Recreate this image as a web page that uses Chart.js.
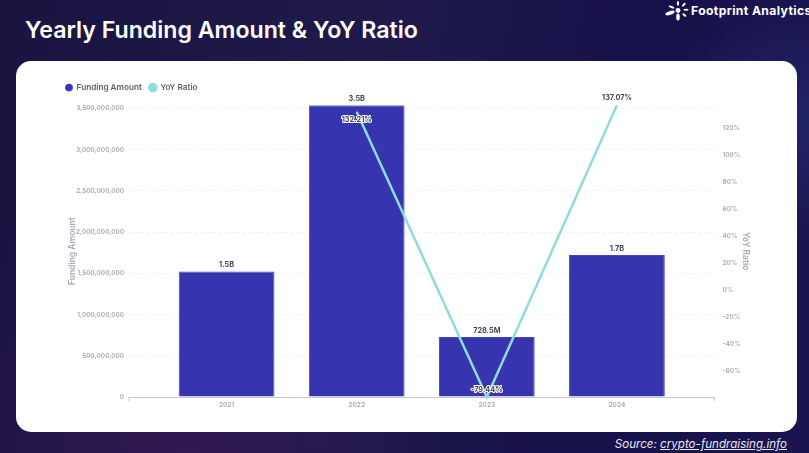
<!DOCTYPE html>
<html>
<head>
<meta charset="utf-8">
<script src="https://cdn.jsdelivr.net/npm/chart.js@4.4.3/dist/chart.umd.min.js"></script>
<style>
    html, body { margin: 0; padding: 0; }
    body {
        width: 809px; height: 453px; overflow: hidden; position: relative;
        font-family: Inter, sans-serif;
        background:
            radial-gradient(circle at 790px 120px, rgba(40, 50, 120, 0.55), transparent 130px),
            radial-gradient(circle at 180px 450px, rgba(70, 25, 90, 0.45), transparent 260px),
            linear-gradient(100deg, #1a1441 0%, #1f1a4a 45%, #17114a 75%, #1a1550 100%);
    }
    #title { position: absolute; left: 25px; top: 14px; font-size: 23.15px; font-weight: 600; color: #fff; line-height: 32px; white-space: nowrap; }
    #logo { position: absolute; left: 664px; top: 0; width: 28px; height: 22px; }
    #brand { position: absolute; left: 691px; top: 3px; font-size: 12.2px; letter-spacing: 0.37px; font-weight: 700; color: #fff; line-height: 16px; white-space: nowrap; }
    #card { position: absolute; left: 16px; top: 61px; width: 781px; height: 371px; background: #fff; border-radius: 15px; }
    #wrap { position: absolute; left: 57.5px; top: 76px; width: 692.5px; height: 337px; }
    #source { position: absolute; right: 22px; top: 436px; font-size: 11.6px; font-style: italic; color: #e8e8f0; line-height: 16px; white-space: nowrap; }
    #source u { text-underline-offset: 1px; }
</style>
</head>
<body>
<div id="title">Yearly Funding Amount &amp; YoY Ratio</div>
<svg id="logo" viewBox="0 0 28 22">
    <g fill="#fff">
        <circle cx="14" cy="10.5" r="2.4"/>
        <ellipse cx="14" cy="3.4" rx="1.1" ry="2.4"/>
        <ellipse cx="14" cy="17" rx="1.8" ry="3.6"/>
        <ellipse cx="6" cy="13" rx="4.8" ry="1.8" transform="rotate(-18 6 13)"/>
        <ellipse cx="7.5" cy="7" rx="3" ry="1.1" transform="rotate(20 7.5 7)"/>
        <ellipse cx="19.8" cy="4.8" rx="2.4" ry="1.1" transform="rotate(-45 19.8 4.8)"/>
        <ellipse cx="22" cy="9.8" rx="2.6" ry="1"/>
        <ellipse cx="20.3" cy="15" rx="2.4" ry="1.1" transform="rotate(40 20.3 15)"/>
    </g>
</svg>
<div id="brand">Footprint Analytics</div>
<div id="card"></div>
<div id="wrap"><canvas id="chart"></canvas></div>
<div id="source">Source: <u>crypto-fundraising.info</u></div>

<script>
// Values
const years = [2021, 2022, 2023, 2024];
const fundingAmount = [1523000000, 3540000000, 728500000, 1723000000];
const fundingLabels = ["1.5B", "3.5B", "728.5M", "1.7B"];
const yoyRatio = [null, 132.21, -79.44, 137.07];
const fundingTicks = [0, 500000000, 1000000000, 1500000000, 2000000000, 2500000000, 3000000000, 3500000000];
const ratioTicks = [-60, -40, -20, 0, 20, 40, 60, 80, 100, 120];

const fontFamily = "Inter, sans-serif";
const axisGrey = "#a4a8b8";

// Extra room between the legend row and the plot
const legendGapPlugin = {
    id: "legendGap",
    beforeInit(chart) {
        const fit = chart.legend.fit;
        chart.legend.fit = function () {
            fit.call(this);
            this.height += 3.5;
        };
    }
};

// Value labels for bars and line points, plus the end ticks on the x axis
const extrasPlugin = {
    id: "extras",
    afterDraw(chart) {
        const ctx = chart.ctx;
        const area = chart.chartArea;

        ctx.save();
        ctx.strokeStyle = "#c4c6d0";
        ctx.lineWidth = 1;
        ctx.beginPath();
        ctx.moveTo(area.left, area.bottom);
        ctx.lineTo(area.left, area.bottom + 4);
        ctx.moveTo(area.right, area.bottom);
        ctx.lineTo(area.right, area.bottom + 4);
        ctx.stroke();

        ctx.textAlign = "center";
        ctx.textBaseline = "middle";
        ctx.font = "700 7.3px " + fontFamily;

        chart.getDatasetMeta(1).data.forEach((bar, i) => {
            ctx.fillStyle = "#45485a";
            ctx.fillText(fundingLabels[i], bar.x, bar.y - 6.5);
        });

        chart.getDatasetMeta(0).data.forEach((point, i) => {
            if (yoyRatio[i] === null) return;
            // the peak that sits under a bar label goes below its point
            const dy = i === 1 ? 8.5 : -7.5;
            const text = yoyRatio[i].toFixed(2) + "%";
            if (point.y > area.top + 2) {
                ctx.lineWidth = 2;
                ctx.strokeStyle = "#fff";
                ctx.lineJoin = "round";
                ctx.strokeText(text, point.x, point.y + dy);
            }
            ctx.fillStyle = "#45485a";
            ctx.fillText(text, point.x, point.y + dy);
        });
        ctx.restore();
    }
};

new Chart(document.getElementById("chart"), {
    data: {
        datasets: [
            {
                type: "line",
                label: "YoY Ratio",
                data: years.map((year, i) => ({ x: year, y: yoyRatio[i] })),
                yAxisID: "yRatio",
                borderColor: "#8fdcdc",
                backgroundColor: "#8fdcdc",
                borderWidth: 2.5,
                pointRadius: 0,
                tension: 0,
                clip: false,
                order: 0
            },
            {
                type: "bar",
                label: "Funding Amount",
                data: years.map((year, i) => ({ x: year, y: fundingAmount[i] })),
                yAxisID: "yFunding",
                backgroundColor: "#3634ae",
                borderColor: "#4544b8",
                borderWidth: 1,
                barPercentage: 0.736,
                categoryPercentage: 1,
                order: 1
            }
        ]
    },
    plugins: [legendGapPlugin, extrasPlugin],
    options: {
        responsive: true,
        maintainAspectRatio: false,
        animation: false,
        plugins: {
            tooltip: { enabled: false },
            legend: {
                position: "top",
                align: "start",
                reverse: true,
                labels: {
                    usePointStyle: true,
                    pointStyle: "circle",
                    boxWidth: 7,
                    boxHeight: 5,
                    padding: 7.5,
                    color: "#5b5e6b",
                    font: { family: fontFamily, size: 8.2, weight: "600" }
                }
            }
        },
        scales: {
            x: {
                type: "linear",
                offset: false,
                min: 2020.25,
                max: 2024.75,
                afterBuildTicks: scale => { scale.ticks = years.map(value => ({ value })); },
                grid: { display: false, drawTicks: false },
                border: { color: "#c4c6d0" },
                ticks: {
                    color: axisGrey,
                    font: { family: fontFamily, size: 6.6, weight: "600" },
                    padding: 4,
                    maxRotation: 0,
                    callback: value => String(value)
                }
            },
            yFunding: {
                position: "left",
                min: 0,
                max: 3540000000,
                afterBuildTicks: scale => { scale.ticks = fundingTicks.map(value => ({ value })); },
                afterFit: scale => { scale.width = 71; },
                grid: { color: "#eef0f3", drawTicks: false },
                border: { display: false, dash: [3, 3] },
                ticks: {
                    color: axisGrey,
                    padding: 5,
                    font: { family: fontFamily, size: 6.5, weight: "600" },
                    callback: value => value.toLocaleString("en-US")
                },
                title: { display: true, text: "Funding Amount", color: axisGrey, padding: { top: 9, bottom: 0 }, font: { family: fontFamily, size: 8.5, weight: "600" } }
            },
            yRatio: {
                position: "right",
                min: -79.44,
                max: 137.07,
                afterBuildTicks: scale => { scale.ticks = ratioTicks.map(value => ({ value })); },
                afterFit: scale => { scale.width = 36; },
                grid: { display: false, drawTicks: false },
                border: { display: false },
                ticks: {
                    color: axisGrey,
                    padding: 8,
                    font: { family: fontFamily, size: 6.5, weight: "600" },
                    callback: value => value + "%"
                },
                title: { display: true, text: "YoY Ratio", color: axisGrey, padding: 0, font: { family: fontFamily, size: 8.5, weight: "600" } }
            }
        }
    }
});
</script>
</body>
</html>
